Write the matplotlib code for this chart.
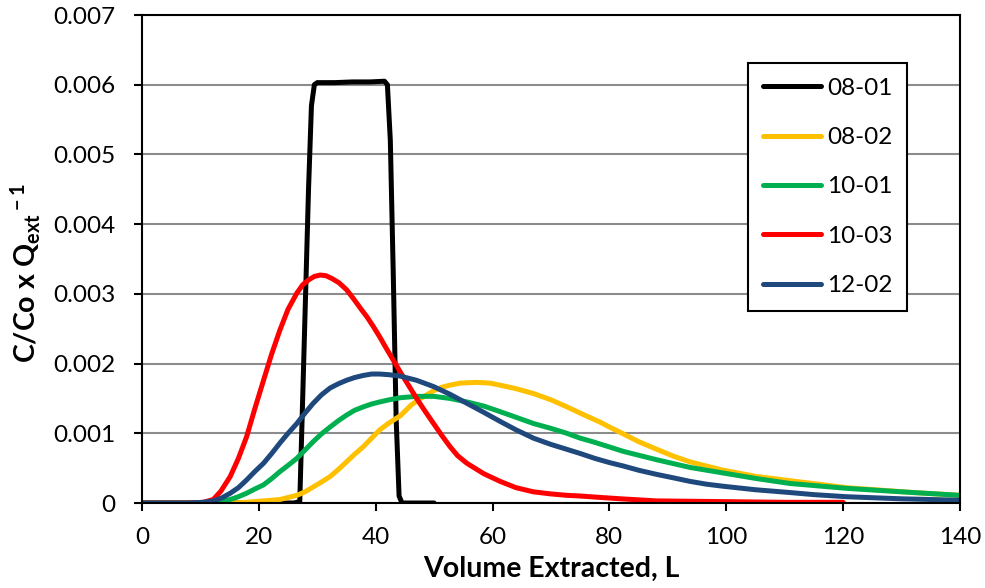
import matplotlib
matplotlib.use('Agg')
import matplotlib.pyplot as plt

plt.rcParams['font.family'] = ['Lato', 'DejaVu Sans']
plt.rcParams['mathtext.fontset'] = 'custom'
plt.rcParams['mathtext.rm'] = 'Lato:bold'
plt.rcParams['mathtext.it'] = 'Lato:bold'
plt.rcParams['mathtext.bf'] = 'Lato:bold'

# 08-01
vol_0801 = [0, 10, 20, 26, 27, 27.5, 28, 28.5, 29, 29.5, 30, 33, 36, 39, 41.5, 42, 42.5, 43, 43.5, 44, 44.5, 50]
c_0801 = [0, 0, 0, 0, 0.00002, 0.0015, 0.0030, 0.0045, 0.0057, 0.0060, 0.00603, 0.00603, 0.00604, 0.00604,
          0.00605, 0.0060, 0.0052, 0.0033, 0.0012, 0.0001, 0, 0]

# 08-02
vol_0802 = [0, 10, 15, 17.9, 20.8, 23.6, 26.5, 27.9, 29.3, 30.7, 32.2, 33.6, 35, 36.4, 37.9, 39.3, 40.7, 42.3,
            44.2, 46, 47.5, 49.9, 51.3, 52.7, 54.5, 57.3, 59.5, 61.3, 64, 67, 70, 72.7, 75.5, 78.4, 80, 82.4, 85,
            88.1, 91, 93.8, 96.6, 99.5, 105.2, 110.9, 120.6, 132, 140]
c_0802 = [0, 0, 0, 0.00001, 0.00003, 0.00005, 0.00011, 0.00016, 0.00023, 0.0003, 0.00038, 0.00048, 0.00059,
          0.0007, 0.00081, 0.00093, 0.00105, 0.00115, 0.00125, 0.0014, 0.00149, 0.00161, 0.00166, 0.00169,
          0.00172, 0.00173, 0.00172, 0.00169, 0.00164, 0.00157, 0.00148, 0.00138, 0.00127, 0.00116, 0.00109,
          0.00099, 0.00088, 0.00077, 0.00067, 0.00059, 0.00053, 0.00047, 0.00038, 0.00032, 0.00022, 0.00015,
          0.00011]

# 10-01
vol_1001 = [0, 10, 13, 15.1, 16.5, 17.9, 19.3, 20.8, 22.2, 23.6, 25, 26.5, 27.9, 29.3, 30.7, 32.2, 33.6, 35,
            36.4, 37.9, 39.3, 40.7, 42.3, 44.2, 47, 49.9, 52.7, 55.6, 58.5, 61.3, 64, 67, 70, 72.7, 75, 77.5,
            82.4, 88.1, 93.8, 99.5, 105.2, 110.9, 120.6, 132, 140]
c_1001 = [0, 0, 0.00001, 0.00005, 0.00009, 0.00014, 0.0002, 0.00026, 0.00035, 0.00045, 0.00054, 0.00064,
          0.00076, 0.00088, 0.00099, 0.00109, 0.00118, 0.00126, 0.00133, 0.00138, 0.00142, 0.00145, 0.00148,
          0.00151, 0.00153, 0.00153, 0.0015, 0.00145, 0.00139, 0.00131, 0.00123, 0.00114, 0.00107, 0.001,
          0.00093, 0.00087, 0.00074, 0.00062, 0.00051, 0.00043, 0.00035, 0.00028, 0.00021, 0.00015, 0.00011]

# 10-03
vol_1003 = [0, 8, 10.5, 12.2, 13.5, 15.1, 16.5, 17.9, 19.3, 20.8, 22.2, 23.6, 25, 26.5, 27.5, 28.5, 29.5,
            30.5, 31.5, 32.5, 33.7, 35, 36.2, 37.5, 38.5, 39.6, 40.7, 41.8, 43, 44.2, 45.6, 47, 48.5, 49.9, 51.3,
            52.7, 54, 55.6, 58.5, 61.3, 64, 67, 70, 72.7, 75, 78.4, 82, 88.1, 99.5, 110, 120]
c_1003 = [0, 0, 0.00001, 0.00005, 0.00017, 0.00038, 0.00064, 0.00095, 0.00135, 0.00176, 0.00214, 0.00248,
          0.00278, 0.00301, 0.00313, 0.0032, 0.00325, 0.00327, 0.00326, 0.00322, 0.00316, 0.00306, 0.00293,
          0.00278, 0.00267, 0.00253, 0.00238, 0.00222, 0.00205, 0.00188, 0.00169, 0.0015, 0.00131, 0.00114,
          0.00097, 0.00081, 0.00068, 0.00057, 0.00042, 0.00031, 0.00022, 0.00016, 0.00013, 0.00011, 0.0001,
          0.00008, 0.00006, 0.00003, 0.00002, 0.00001, 0.00001]

# 12-02
vol_1202 = [0, 8, 10.5, 12.2, 13.6, 15.1, 16.5, 17.9, 19.3, 20.8, 22.2, 23.6, 25, 26.5, 27.9, 29.3, 30.7,
            32.2, 33.6, 35, 36.4, 37.9, 39.3, 40.7, 42.3, 44.2, 47, 49.9, 52.7, 55.6, 58.5, 61.3, 64, 67, 70,
            72.7, 75, 77.5, 80, 82.4, 85, 88.1, 91, 93.8, 96.6, 99.5, 105, 110.9, 115, 120.6, 130, 140]
c_1202 = [0, 0, 0.00001, 0.00003, 0.00007, 0.00014, 0.00022, 0.00033, 0.00045, 0.00057, 0.00071, 0.00086,
          0.001, 0.00114, 0.00129, 0.00143, 0.00155, 0.00165, 0.00171, 0.00176, 0.0018, 0.00183, 0.00185,
          0.00185, 0.00184, 0.00182, 0.00176, 0.00167, 0.00156, 0.00143, 0.0013, 0.00117, 0.00105, 0.00093,
          0.00084, 0.00077, 0.00071, 0.00064, 0.00058, 0.00053, 0.00047, 0.00041, 0.00036, 0.00031, 0.00027,
          0.00024, 0.00019, 0.00015, 0.00012, 0.00009, 0.00006, 0.00004]

series = [
    ('08-01', vol_0801, c_0801, '#000000'),
    ('08-02', vol_0802, c_0802, '#FFC000'),
    ('10-01', vol_1001, c_1001, '#00B050'),
    ('10-03', vol_1003, c_1003, '#FF0000'),
    ('12-02', vol_1202, c_1202, '#1F497D'),
]

fig = plt.figure(figsize=(9.85, 5.88), dpi=100)
ax = fig.add_axes([142 / 985, 85 / 588, 818 / 985, 488 / 588])

for name, xs, ys, col in series:
    ax.plot(xs, ys, color=col, lw=3.6, label=name, solid_capstyle='round', solid_joinstyle='round')

ax.set_xlim(0, 140)
ax.set_ylim(0, 0.007)
ax.set_xticks(range(0, 141, 20))
ax.set_yticks([0, 0.001, 0.002, 0.003, 0.004, 0.005, 0.006, 0.007])
ax.set_yticklabels(['0', '0.001', '0.002', '0.003', '0.004', '0.005', '0.006', '0.007'])
ax.yaxis.grid(True, color='#8c8c8c', lw=1.5)
ax.set_axisbelow(True)
for s in ax.spines.values():
    s.set_color('black')
    s.set_linewidth(1.5)
ax.tick_params(axis='both', direction='out', length=6, width=1.5, labelsize=17.5, color='black')
ax.tick_params(axis='x', pad=11)
ax.tick_params(axis='y', pad=13)

ax.set_xlabel('Volume Extracted, L', fontsize=20.5, fontweight='bold')
ax.xaxis.set_label_coords(0.5, -0.108)
ax.set_ylabel(r'C/Co x Q$_{\rm ext}$$^{\rm -1}$', fontsize=20.5, fontweight='bold')
ax.yaxis.set_label_coords(-0.121, 0.47)

leg = ax.legend(loc='upper left', bbox_to_anchor=(748 / 985, 1 - 63 / 588), bbox_transform=fig.transFigure,
                borderaxespad=0, fontsize=17.5, handlelength=2.4, handletextpad=0.25, labelspacing=1.17,
                borderpad=0.6, fancybox=False, framealpha=1, edgecolor='black')
leg.get_frame().set_linewidth(1.5)

fig.savefig('out.png', dpi=100)
